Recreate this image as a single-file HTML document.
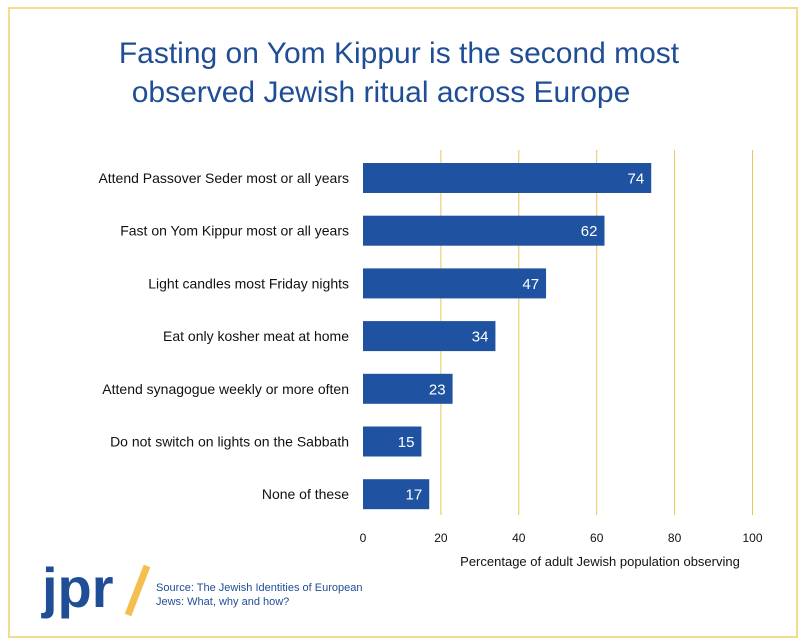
<!DOCTYPE html>
<html><head><meta charset="utf-8"><style>
body{margin:0;background:#fff;font-family:"Liberation Sans",sans-serif;}
svg{display:block}
</style></head><body>
<svg width="805" height="644" viewBox="0 0 805 644">
<rect x="9" y="8" width="788" height="629" fill="none" stroke="#f2dc8e" stroke-width="2"/>
<text x="399" y="63" text-anchor="middle" font-size="30" fill="#1f4e96">Fasting on Yom Kippur is the second most</text>
<text x="381" y="102" text-anchor="middle" font-size="30" fill="#1f4e96">observed Jewish ritual across Europe</text>
<g id="grid"></g>
<g id="bars"></g>
<g id="ticks"></g>
<text x="600" y="566" text-anchor="middle" font-size="13" fill="#111">Percentage of adult  Jewish population observing</text>
<text x="42" y="607" font-size="56" font-weight="bold" fill="#1f4e96">jpr</text>
<line x1="128" y1="615" x2="147" y2="566" stroke="#f5bf4f" stroke-width="7"/>
<text x="156" y="591" font-size="11" fill="#1f4e96">Source: The Jewish Identities of European</text>
<text x="156" y="605" font-size="11" fill="#1f4e96">Jews: What, why and how?</text>
</svg>
<script>
const categories=["Attend Passover Seder most or all years","Fast on Yom Kippur most or all years","Light candles most Friday nights","Eat only kosher meat at home ","Attend synagogue weekly or more often","Do not switch on lights on the Sabbath","None of these"];
const values=[74,62,47,34,23,15,17];
const tickLabels=[0,20,40,60,80,100];
const NS="http://www.w3.org/2000/svg";
const x0=363,pxPer=3.895,top0=163,step=52.7,bh=30;
const xs=v=>x0+v*pxPer;
const ys=i=>top0+i*step;
function mk(t,a,p){const e=document.createElementNS(NS,t);for(const k in a)e.setAttribute(k,a[k]);p.appendChild(e);return e;}
const grid=document.getElementById('grid'),bars=document.getElementById('bars'),ticks=document.getElementById('ticks');
tickLabels.forEach(t=>{
 if(t>0){const l=mk('line',{x1:xs(t),x2:xs(t),y1:150,y2:515,stroke:'#e8c65a','stroke-width':1},grid);
 
 }
 const tx=mk('text',{x:xs(t),y:542,'text-anchor':'middle','font-size':12,fill:'#111'},ticks);tx.textContent=t;
 
 
});
categories.forEach((c,i)=>{
 const y=ys(i);
 const r=mk('rect',{x:x0,y:y,width:xs(values[i])-x0,height:bh,fill:'#1f52a0'},bars);
 
 
 const v=mk('text',{x:xs(values[i])-7,y:y+bh/2+5.5,'text-anchor':'end','font-size':15,fill:'#fff'},bars);v.textContent=values[i];
 
 
 const l=mk('text',{x:349,y:y+bh/2+5,'text-anchor':'end','font-size':14,fill:'#111'},bars);l.textContent=c;
 
 
});
</script>
</body></html>
